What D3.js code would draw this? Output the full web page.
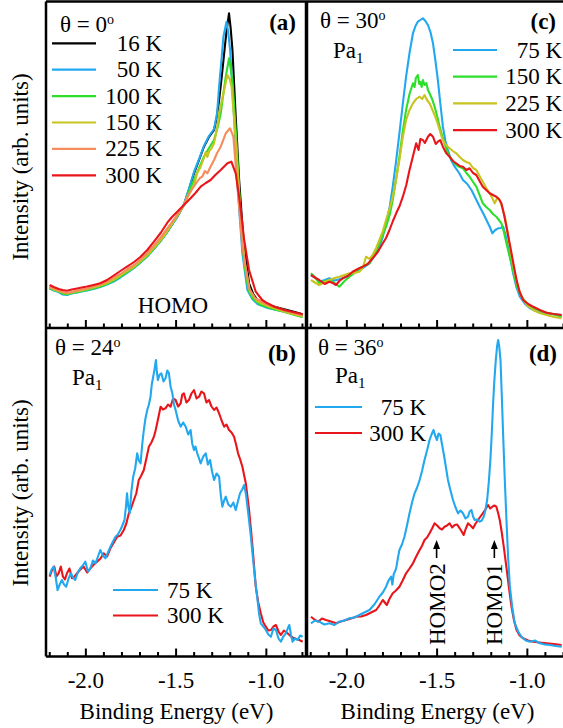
<!DOCTYPE html>
<html>
<head>
<meta charset="utf-8">
<script src="https://cdn.jsdelivr.net/npm/d3@7"></script>
<style>
  body { margin: 0; background: #fff; }
  svg { display: block; }
</style>
</head>
<body>
<svg id="chart" width="563" height="728"></svg>
<script>
// ---- axis values ----
const energyDomain = [-2.218, -0.772];
const minorTicks = [-2.2, -2.1, -1.9, -1.8, -1.7, -1.6, -1.4, -1.3, -1.2, -1.1, -0.9, -0.8];
const majorTicks = [-2.0, -1.5, -1.0];
const tickLabels = ["-2.0", "-1.5", "-1.0"];

// ---- (a) theta = 0, HOMO ----
const a16K = [[-2.198,40.7],[-2.175,39],[-2.148,37.3],[-2.125,35],[-2.102,34],[-2.075,35.5],[-2.046,36.3],[-2.02,37.5],[-1.991,38.7],[-1.955,40],[-1.917,42],[-1.88,44.5],[-1.843,48],[-1.806,52],[-1.769,56.3],[-1.73,61],[-1.694,66.3],[-1.657,72.5],[-1.62,79.7],[-1.583,87.5],[-1.546,96.3],[-1.52,103.5],[-1.491,111.3],[-1.454,123],[-1.425,139],[-1.398,154.7],[-1.37,168],[-1.343,181.3],[-1.315,191],[-1.287,198],[-1.272,210],[-1.259,228],[-1.245,250],[-1.231,274.7],[-1.218,297],[-1.204,314.7],[-1.195,300],[-1.185,278],[-1.167,211.3],[-1.148,148],[-1.124,88],[-1.093,44.7],[-1.07,34],[-1.046,28],[-0.991,23],[-0.945,21],[-0.898,18.7],[-0.85,16.5],[-0.796,13.7]];
const a50K = [[-2.198,39.5],[-2.175,37.5],[-2.148,36],[-2.125,33.5],[-2.102,33],[-2.075,34.5],[-2.046,35.5],[-2.02,36.5],[-1.991,37.5],[-1.955,39],[-1.917,41],[-1.88,43.5],[-1.843,46.5],[-1.806,50.5],[-1.769,55],[-1.73,60],[-1.694,65.5],[-1.657,71.5],[-1.62,79],[-1.583,87],[-1.546,96],[-1.52,103],[-1.491,111],[-1.454,123.5],[-1.425,140],[-1.398,156],[-1.37,169],[-1.343,182],[-1.315,192],[-1.287,199],[-1.27,215],[-1.259,241.3],[-1.245,270],[-1.235,291.3],[-1.218,306.3],[-1.208,295],[-1.198,278],[-1.176,211.3],[-1.154,134.7],[-1.13,74.7],[-1.102,38],[-1.075,29],[-1.046,24],[-0.99,20],[-0.898,16.3],[-0.85,14],[-0.796,12]];
const a100K = [[-2.198,40],[-2.175,38],[-2.148,36.5],[-2.125,34.5],[-2.102,33.5],[-2.075,35],[-2.046,35.8],[-2.02,37],[-1.991,38],[-1.955,39.5],[-1.917,41.5],[-1.88,44],[-1.843,47.5],[-1.806,51.5],[-1.769,55.8],[-1.73,60.5],[-1.694,66],[-1.657,72],[-1.62,79.5],[-1.583,87.5],[-1.546,96.5],[-1.52,104],[-1.491,112],[-1.454,123],[-1.425,137],[-1.398,148],[-1.37,160],[-1.343,171.3],[-1.315,180],[-1.287,188],[-1.265,202],[-1.25,214.7],[-1.235,235],[-1.222,251.3],[-1.204,269.7],[-1.185,248],[-1.162,184.7],[-1.141,114.7],[-1.12,64.7],[-1.096,38],[-1.07,29],[-1.028,23],[-0.95,18.5],[-0.898,16.3],[-0.85,13.5],[-0.796,10.7]];
const a150K = [[-2.198,41],[-2.175,38.5],[-2.148,37],[-2.125,35.5],[-2.102,34.5],[-2.075,35.5],[-2.046,36.8],[-2.02,37.5],[-1.991,39],[-1.955,40.5],[-1.917,42.5],[-1.88,45],[-1.843,48.5],[-1.806,52.5],[-1.769,57],[-1.73,61.5],[-1.694,67],[-1.657,73],[-1.62,80.5],[-1.583,88],[-1.546,97],[-1.52,104],[-1.491,112],[-1.454,123],[-1.425,134],[-1.398,143],[-1.38,155],[-1.361,161.3],[-1.343,170],[-1.333,176],[-1.324,171],[-1.315,176.3],[-1.3,180],[-1.287,184.7],[-1.27,200],[-1.259,214.7],[-1.231,238],[-1.213,253],[-1.2,249],[-1.19,241.3],[-1.167,188],[-1.143,121.3],[-1.117,64.7],[-1.087,36.3],[-1.05,27],[-0.99,22],[-0.898,16.5],[-0.85,14],[-0.796,11.5]];
const a225K = [[-2.198,41.5],[-2.175,39.5],[-2.148,37.8],[-2.125,36],[-2.102,35],[-2.075,36],[-2.046,37.5],[-2.02,38.5],[-1.991,39.5],[-1.955,41.5],[-1.917,43.5],[-1.88,46.5],[-1.843,50.5],[-1.806,54],[-1.769,58.5],[-1.73,63],[-1.694,68.5],[-1.657,75],[-1.62,82.5],[-1.583,90.5],[-1.546,99.5],[-1.52,106],[-1.491,113],[-1.454,123],[-1.435,131.3],[-1.408,139],[-1.38,146.3],[-1.365,150],[-1.352,151.3],[-1.338,157],[-1.324,154.7],[-1.31,160],[-1.287,168],[-1.27,175],[-1.25,181.3],[-1.222,194.7],[-1.198,199.7],[-1.18,191.3],[-1.157,141.3],[-1.13,81.3],[-1.093,39.7],[-1.06,30],[-1.0,24],[-0.9,18],[-0.85,15],[-0.796,12.5]];
const a300K = [[-2.198,43],[-2.175,41],[-2.148,39],[-2.125,38],[-2.102,37.3],[-2.075,38.5],[-2.046,39.5],[-2.02,40.5],[-1.991,41.5],[-1.955,43],[-1.917,44.7],[-1.88,48],[-1.843,52.5],[-1.806,57],[-1.769,61.3],[-1.73,66],[-1.694,71.3],[-1.657,78],[-1.62,86.3],[-1.583,95],[-1.546,105.3],[-1.52,111],[-1.491,116.3],[-1.454,123],[-1.417,129.7],[-1.39,135],[-1.361,141.3],[-1.333,145],[-1.306,148],[-1.28,153],[-1.25,158],[-1.213,164.7],[-1.191,166.3],[-1.167,154.7],[-1.143,124.7],[-1.12,88],[-1.093,58],[-1.056,36.3],[-1.02,28],[-0.991,24.7],[-0.95,21],[-0.898,18],[-0.85,16],[-0.796,13.7]];

// ---- (b) theta = 24, Pa1 ----
const b75K = [[-2.198,81.5],[-2.187,87],[-2.176,89.8],[-2.165,80],[-2.154,66.5],[-2.142,72],[-2.13,76.5],[-2.118,72],[-2.106,69.8],[-2.093,78],[-2.08,83.2],[-2.068,79],[-2.056,76.5],[-2.042,84],[-2.028,88.2],[-2.014,91],[-2.0,94.8],[-1.986,85],[-1.972,88.2],[-1.958,96],[-1.944,93.2],[-1.93,100],[-1.917,106.5],[-1.903,101],[-1.889,98.2],[-1.875,104],[-1.861,109.8],[-1.847,115],[-1.833,119.8],[-1.82,122],[-1.806,126.5],[-1.795,131],[-1.783,136.5],[-1.775,150],[-1.769,163.2],[-1.762,150],[-1.754,143.2],[-1.745,165],[-1.735,179.8],[-1.724,188],[-1.713,203.2],[-1.704,196],[-1.694,193.2],[-1.685,212],[-1.676,226.5],[-1.667,238],[-1.657,246.5],[-1.648,252],[-1.639,259.8],[-1.632,272],[-1.624,279.8],[-1.616,288],[-1.609,296.5],[-1.604,285],[-1.598,276.5],[-1.588,282],[-1.579,283.2],[-1.567,275],[-1.556,278.2],[-1.546,286],[-1.537,283.2],[-1.528,270],[-1.518,263.2],[-1.509,252],[-1.5,246.5],[-1.486,236],[-1.472,229.8],[-1.458,234],[-1.444,229.8],[-1.43,222],[-1.417,226.5],[-1.408,213],[-1.398,206.5],[-1.39,210],[-1.38,203.2],[-1.37,198],[-1.361,193.2],[-1.347,200],[-1.333,203.2],[-1.321,192],[-1.309,196.5],[-1.298,185],[-1.287,176.5],[-1.273,183],[-1.259,179.8],[-1.25,162],[-1.241,149.8],[-1.231,156],[-1.222,159.8],[-1.208,152],[-1.194,149.8],[-1.18,154],[-1.167,146.5],[-1.155,155],[-1.143,163.2],[-1.131,167],[-1.12,171.5],[-1.11,162],[-1.102,149.8],[-1.093,136],[-1.083,119.8],[-1.074,103],[-1.065,86.5],[-1.055,70],[-1.046,56.5],[-1.037,42],[-1.028,33.2],[-1.014,30],[-1.0,26.5],[-0.986,22],[-0.972,19.8],[-0.958,28],[-0.944,26.5],[-0.93,18],[-0.917,14.8],[-0.903,20],[-0.889,23.2],[-0.879,28],[-0.87,31.5],[-0.861,22],[-0.852,14.8],[-0.838,18],[-0.824,16.5],[-0.81,21],[-0.796,19.8]];
const b300K = [[-2.198,79.8],[-2.185,86],[-2.172,89.8],[-2.16,80],[-2.148,83.2],[-2.136,90],[-2.124,79.8],[-2.113,77],[-2.102,83.2],[-2.088,88],[-2.074,78.2],[-2.06,80],[-2.046,83.2],[-2.028,87],[-2.009,89.8],[-1.99,84],[-1.972,88.2],[-1.953,92],[-1.935,94.8],[-1.916,98],[-1.898,103.2],[-1.88,100],[-1.861,108.2],[-1.842,114],[-1.824,119.8],[-1.805,121],[-1.787,126.5],[-1.773,133],[-1.759,143.2],[-1.745,149],[-1.731,156.5],[-1.718,163],[-1.704,176.5],[-1.69,181],[-1.676,186.5],[-1.662,198],[-1.648,209.8],[-1.634,214],[-1.62,219.8],[-1.611,226],[-1.602,233.2],[-1.592,242],[-1.583,249.8],[-1.57,247],[-1.556,248.2],[-1.542,252],[-1.528,249.8],[-1.514,258],[-1.5,256.5],[-1.486,250],[-1.472,253.2],[-1.463,262],[-1.454,263.2],[-1.44,254],[-1.426,256.5],[-1.412,263],[-1.398,266.5],[-1.384,258],[-1.37,259.8],[-1.357,265],[-1.343,263.2],[-1.329,254],[-1.315,256.5],[-1.301,250],[-1.287,246.5],[-1.273,249],[-1.259,243.2],[-1.245,236],[-1.231,229.8],[-1.218,232],[-1.204,226.5],[-1.19,224],[-1.176,219.8],[-1.165,212],[-1.154,203.2],[-1.142,197],[-1.13,189.8],[-1.12,181],[-1.111,173.2],[-1.102,160],[-1.093,146.5],[-1.083,128],[-1.074,109.8],[-1.065,90],[-1.056,69.8],[-1.042,54],[-1.028,43.2],[-1.014,34],[-1.0,29.8],[-0.986,26],[-0.972,26.5],[-0.958,30],[-0.944,31.5],[-0.93,25],[-0.917,21.5],[-0.9,26],[-0.88,23.2],[-0.86,20],[-0.843,18.2],[-0.82,17],[-0.796,14.8]];

// ---- (c) theta = 30, Pa1 ----
const c75K = [[-2.196,53],[-2.17,50],[-2.15,46.3],[-2.12,48],[-2.094,49.7],[-2.065,47.5],[-2.039,48.7],[-2.01,50.5],[-1.983,53],[-1.955,55],[-1.928,58],[-1.9,61],[-1.872,64.7],[-1.845,72],[-1.817,81.3],[-1.8,90],[-1.78,104.7],[-1.76,121],[-1.743,141.3],[-1.725,166],[-1.706,194.7],[-1.688,223],[-1.669,251.3],[-1.65,275],[-1.631,294.7],[-1.617,302],[-1.604,306.3],[-1.59,308],[-1.576,309.7],[-1.562,307],[-1.548,303],[-1.534,296],[-1.52,284.7],[-1.507,268],[-1.493,248],[-1.479,224],[-1.465,201.3],[-1.451,187],[-1.437,178],[-1.42,168],[-1.4,161.3],[-1.375,155],[-1.354,148],[-1.33,144],[-1.307,138],[-1.285,130],[-1.261,121.3],[-1.24,114],[-1.224,108],[-1.205,101],[-1.191,94.7],[-1.175,98],[-1.159,99.7],[-1.145,100],[-1.131,101.3],[-1.118,93],[-1.104,81.3],[-1.09,68],[-1.076,54.7],[-1.058,41],[-1.039,31.3],[-1.01,24],[-0.983,19.7],[-0.95,17],[-0.909,14.7],[-0.86,14],[-0.807,13]];
const c150K = [[-2.196,54.7],[-2.17,50],[-2.15,44.7],[-2.12,47],[-2.094,48],[-2.065,45],[-2.039,41.3],[-2.01,47],[-1.983,51.3],[-1.955,55],[-1.928,59.7],[-1.9,62],[-1.872,64.7],[-1.845,73],[-1.817,84.7],[-1.78,101.3],[-1.76,113],[-1.743,128],[-1.725,148],[-1.706,171.3],[-1.688,196],[-1.669,218],[-1.65,234],[-1.631,244.7],[-1.622,241],[-1.615,250],[-1.604,253],[-1.596,244],[-1.59,246],[-1.583,241],[-1.576,248],[-1.567,243],[-1.557,245],[-1.548,238],[-1.539,234.7],[-1.525,229],[-1.511,221.3],[-1.497,212],[-1.483,201.3],[-1.47,193],[-1.456,184.7],[-1.442,177],[-1.428,171.3],[-1.41,167],[-1.391,163],[-1.372,161],[-1.354,159.7],[-1.335,155],[-1.317,151.3],[-1.298,146],[-1.28,141.3],[-1.262,133],[-1.244,124.7],[-1.225,121],[-1.206,118],[-1.188,114],[-1.169,111.3],[-1.155,108],[-1.141,104.7],[-1.127,96],[-1.113,84.7],[-1.099,74],[-1.085,64.7],[-1.067,50],[-1.048,38],[-1.025,30],[-1.0,25],[-0.983,21.3],[-0.945,18.5],[-0.909,16.3],[-0.86,14],[-0.807,11.3]];
const c225K = [[-2.196,48],[-2.17,45],[-2.15,43],[-2.12,46],[-2.094,48],[-2.065,50],[-2.039,51.3],[-2.01,53],[-1.983,54.7],[-1.955,55],[-1.928,56.3],[-1.909,60],[-1.891,71.3],[-1.872,69],[-1.854,73],[-1.835,80],[-1.817,88],[-1.798,97],[-1.78,108],[-1.761,119],[-1.743,131.3],[-1.725,148],[-1.706,168],[-1.688,190],[-1.669,208],[-1.65,218],[-1.631,224.7],[-1.613,229],[-1.594,231.3],[-1.58,229],[-1.567,233],[-1.553,228],[-1.539,224.7],[-1.525,219],[-1.511,213],[-1.497,206],[-1.483,198],[-1.47,190],[-1.456,184.7],[-1.442,182],[-1.428,179.7],[-1.41,177],[-1.391,174.7],[-1.372,171],[-1.354,168],[-1.335,166],[-1.317,164.7],[-1.298,160],[-1.28,158],[-1.262,152],[-1.244,146.3],[-1.225,140],[-1.206,134.7],[-1.192,130],[-1.178,124.7],[-1.164,130],[-1.15,128],[-1.136,120],[-1.122,111.3],[-1.108,97],[-1.094,81.3],[-1.08,67],[-1.067,54.7],[-1.048,41],[-1.03,31.3],[-1.0,23],[-0.965,18],[-0.93,15],[-0.891,13],[-0.85,11],[-0.807,9.7]];
const c300K = [[-2.196,53],[-2.17,50],[-2.15,48],[-2.12,44],[-2.094,46.3],[-2.075,45],[-2.057,43],[-2.039,47],[-2.02,49.7],[-1.992,52],[-1.965,56.3],[-1.937,59],[-1.909,61.3],[-1.882,64],[-1.854,69.7],[-1.826,76],[-1.798,84.7],[-1.78,90],[-1.761,98],[-1.742,107],[-1.724,114.7],[-1.705,122],[-1.687,131.3],[-1.668,143],[-1.65,158],[-1.632,171],[-1.613,184.7],[-1.6,178],[-1.59,189],[-1.576,188],[-1.565,185],[-1.548,191.3],[-1.535,194],[-1.52,191.3],[-1.505,184],[-1.493,186.3],[-1.48,188],[-1.465,181.3],[-1.447,175],[-1.428,171.3],[-1.41,167],[-1.391,164.7],[-1.372,162],[-1.354,161.3],[-1.335,158],[-1.317,159.7],[-1.298,155],[-1.28,153],[-1.262,147],[-1.244,141.3],[-1.225,138],[-1.206,134.7],[-1.188,133],[-1.169,131.3],[-1.155,129],[-1.141,124.7],[-1.127,114],[-1.113,101.3],[-1.099,88],[-1.085,74.7],[-1.071,61],[-1.057,48],[-1.04,36],[-1.02,28],[-0.993,24],[-0.965,21.3],[-0.928,18],[-0.891,15.3],[-0.85,14],[-0.807,13]];

// ---- (d) theta = 36, Pa1 ----
const d75K = [[-2.196,33.2],[-2.173,36],[-2.15,34.8],[-2.122,32],[-2.094,33.2],[-2.066,31.5],[-2.039,34.8],[-2.011,36],[-1.983,38.2],[-1.955,39],[-1.928,41.5],[-1.9,44],[-1.872,46.5],[-1.845,52],[-1.817,59.8],[-1.798,64],[-1.78,69.8],[-1.766,76],[-1.752,79.8],[-1.745,72],[-1.738,82],[-1.724,88.2],[-1.715,98],[-1.706,106.5],[-1.692,112],[-1.678,119.8],[-1.664,131],[-1.65,143.2],[-1.636,154],[-1.622,163.2],[-1.608,169],[-1.594,176.5],[-1.58,186],[-1.567,196.5],[-1.553,206],[-1.539,216.5],[-1.528,222],[-1.517,226.5],[-1.508,221],[-1.498,216.5],[-1.489,223],[-1.479,221.5],[-1.47,212],[-1.461,203.2],[-1.449,190],[-1.437,176.5],[-1.423,166],[-1.409,156.5],[-1.395,149],[-1.381,143.2],[-1.368,146],[-1.354,143.2],[-1.34,138],[-1.326,139.8],[-1.317,145],[-1.307,146.5],[-1.298,140],[-1.289,136.5],[-1.275,137],[-1.261,134.8],[-1.25,136],[-1.239,139.8],[-1.23,146],[-1.22,156.5],[-1.211,174],[-1.202,196.5],[-1.194,224],[-1.187,253.2],[-1.18,276],[-1.172,296.5],[-1.165,310],[-1.159,316.5],[-1.153,310],[-1.146,296.5],[-1.139,262],[-1.131,219.8],[-1.122,176],[-1.113,136.5],[-1.104,100],[-1.094,69.8],[-1.08,48],[-1.067,33.2],[-1.048,25],[-1.03,19.8],[-1.006,16],[-0.983,14.8],[-0.955,16],[-0.928,13.2],[-0.9,12],[-0.872,11.5],[-0.84,10.5],[-0.807,9.8]];
const d300K = [[-2.196,39.8],[-2.177,37],[-2.157,34.8],[-2.135,38],[-2.113,36.5],[-2.085,35],[-2.057,33.2],[-2.03,35],[-2.002,36.5],[-1.974,38],[-1.946,39.8],[-1.918,40],[-1.891,41.5],[-1.863,44],[-1.835,46.5],[-1.817,51],[-1.798,56.5],[-1.787,54],[-1.776,51.5],[-1.76,58],[-1.743,63.2],[-1.725,66],[-1.706,69.8],[-1.688,76],[-1.669,83.2],[-1.65,88],[-1.631,93.2],[-1.613,100],[-1.594,106.5],[-1.58,111],[-1.567,116.5],[-1.553,119],[-1.539,123.2],[-1.525,128],[-1.511,133.2],[-1.497,131],[-1.483,128.2],[-1.47,127],[-1.456,129.8],[-1.442,131],[-1.428,133.2],[-1.414,129],[-1.4,131.5],[-1.386,132],[-1.372,128.2],[-1.361,125],[-1.35,121.5],[-1.338,128],[-1.326,133.2],[-1.312,131],[-1.298,128.2],[-1.284,133],[-1.27,136.5],[-1.257,140],[-1.244,143.2],[-1.23,147],[-1.215,151.5],[-1.203,148],[-1.191,149.8],[-1.18,151],[-1.169,149.8],[-1.16,144],[-1.15,136.5],[-1.139,124],[-1.128,109.8],[-1.118,96],[-1.109,83.2],[-1.097,66],[-1.085,49.8],[-1.071,36],[-1.057,26.5],[-1.04,21],[-1.02,18.2],[-0.993,16],[-0.965,14.8],[-0.93,14],[-0.891,13.2],[-0.85,12.5],[-0.807,11.5]];

// ---- colours ----
const C = {
  black: "#000000",
  blue: "#22a8ee",
  green: "#2ddf2a",
  olive: "#c8c41f",
  orange: "#f58c5c",
  red: "#e8151b"
};

// ---- layout ----
const FONT = '"Liberation Serif"';
const colX = [46, 307];
const panelW = 261;
const rowTop = [1.5, 328];
const rowBottom = [328, 656.5];
const fontSize = 23;

const panels = [
  { tag: "(a)", col: 0, row: 0, tagX: 296, tagY: 30,
    series: [
      { label: "16 K", color: C.black, values: a16K },
      { label: "50 K", color: C.blue, values: a50K },
      { label: "100 K", color: C.green, values: a100K },
      { label: "150 K", color: C.olive, values: a150K },
      { label: "225 K", color: C.orange, values: a225K },
      { label: "300 K", color: C.red, values: a300K }
    ],
    drawOrder: [0, 1, 2, 3, 4, 5],
    legend: { x1: 52, x2: 96, y0: 43.3, dy: 26.4, textX: 162, anchor: "end" },
    angle: "0", angleX: 60, angleY: 32, pa: null },
  { tag: "(b)", col: 0, row: 1, tagX: 296, tagY: 361,
    series: [
      { label: "75 K", color: C.blue, values: b75K },
      { label: "300 K", color: C.red, values: b300K }
    ],
    drawOrder: [1, 0],
    legend: { x1: 113, x2: 158, y0: 590, dy: 25.5, textX: 167, anchor: "start" },
    angle: "24", angleX: 55, angleY: 355, pa: [72, 385] },
  { tag: "(c)", col: 1, row: 0, tagX: 556, tagY: 29,
    series: [
      { label: "75 K", color: C.blue, values: c75K },
      { label: "150 K", color: C.green, values: c150K },
      { label: "225 K", color: C.olive, values: c225K },
      { label: "300 K", color: C.red, values: c300K }
    ],
    drawOrder: [0, 1, 2, 3],
    legend: { x1: 453, x2: 497, y0: 50, dy: 26.7, textX: 562, anchor: "end" },
    angle: "30", angleX: 320, angleY: 28, pa: [333, 58] },
  { tag: "(d)", col: 1, row: 1, tagX: 557, tagY: 361,
    series: [
      { label: "75 K", color: C.blue, values: d75K },
      { label: "300 K", color: C.red, values: d300K }
    ],
    drawOrder: [1, 0],
    legend: { x1: 315, x2: 362, y0: 407, dy: 26, textX: 426, anchor: "end" },
    angle: "36", angleX: 318, angleY: 355, pa: [335, 383] }
];

const svg = d3.select("#chart");
svg.append("rect").attr("width", 563).attr("height", 728).attr("fill", "#fff");

const defs = svg.append("defs");

function addText(sel) {
  return sel.append("text").style("font-family", FONT).attr("fill", "#000");
}

panels.forEach((p, i) => {
  const x0 = colX[p.col];
  const top = rowTop[p.row], bottom = rowBottom[p.row];
  const x = d3.scaleLinear().domain(energyDomain).range([x0, x0 + panelW]);
  const y = d3.scaleLinear().domain([0, bottom - top]).range([bottom, top]);

  defs.append("clipPath").attr("id", "clip" + i)
    .append("rect").attr("x", x0).attr("y", top).attr("width", panelW).attr("height", bottom - top);

  const line = d3.line().x(d => x(d[0])).y(d => y(d[1]));
  const g = svg.append("g").attr("clip-path", `url(#clip${i})`);
  p.drawOrder.forEach(k => {
    const s = p.series[k];
    g.append("path")
      .datum(s.values)
      .attr("fill", "none")
      .attr("stroke", s.color)
      .attr("stroke-width", 2.1)
      .attr("stroke-linejoin", "round")
      .attr("d", line);
  });

  // inward ticks on the energy axis
  const minorAxis = d3.axisBottom(x).tickValues(minorTicks).tickSize(-4.5).tickFormat("");
  const majorAxis = d3.axisBottom(x).tickValues(majorTicks).tickSize(-8).tickPadding(15)
    .tickFormat((d, j) => p.row === 1 ? tickLabels[j] : "");
  [minorAxis, majorAxis].forEach(ax => {
    const ga = svg.append("g").attr("transform", `translate(0,${bottom})`).call(ax);
    ga.attr("font-size", fontSize);
    ga.select(".domain").remove();
    ga.selectAll(".tick line").attr("stroke", "#000").attr("stroke-width", 2);
    ga.selectAll(".tick text").style("font-family", FONT).attr("fill", "#000");
  });

  // legend
  const L = p.legend;
  p.series.forEach((s, j) => {
    const ly = L.y0 + j * L.dy;
    svg.append("line").attr("x1", L.x1).attr("x2", L.x2).attr("y1", ly).attr("y2", ly)
      .attr("stroke", s.color).attr("stroke-width", 2.2);
    addText(svg).attr("x", L.textX).attr("y", ly + 7.5)
      .attr("text-anchor", L.anchor).attr("font-size", fontSize).text(s.label);
  });

  // angle label
  const t = addText(svg).attr("x", p.angleX).attr("y", p.angleY).attr("font-size", fontSize);
  t.append("tspan").text("\u03b8 = " + p.angle);
  t.append("tspan").attr("font-size", 14).attr("dy", -8).text("o");

  if (p.pa) {
    const pa = addText(svg).attr("x", p.pa[0]).attr("y", p.pa[1]).attr("font-size", fontSize);
    pa.append("tspan").text("Pa");
    pa.append("tspan").attr("font-size", 15).attr("dy", 5).text("1");
  }

  // panel tag
  addText(svg).attr("x", p.tagX).attr("y", p.tagY).attr("text-anchor", "end")
    .attr("font-size", fontSize).attr("font-weight", "bold").text(p.tag);

  // axis title
  if (p.row === 1) {
    addText(svg).attr("x", x0 + panelW / 2).attr("y", 719).attr("text-anchor", "middle")
      .attr("font-size", fontSize).text("Binding Energy (eV)");
  }
});

// y-axis titles
[167, 493].forEach(cy => {
  addText(svg).attr("transform", `translate(28,${cy}) rotate(-90)`)
    .attr("text-anchor", "middle").attr("font-size", fontSize).text("Intensity (arb. units)");
});

// HOMO label in (a)
addText(svg).attr("x", 173).attr("y", 313).attr("text-anchor", "middle")
  .attr("font-size", fontSize).text("HOMO");

// HOMO1 / HOMO2 markers in (d)
const xd = d3.scaleLinear().domain(energyDomain).range([colX[1], colX[1] + panelW]);
const markers = [{ e: -1.5, label: "HOMO2" }, { e: -1.18, label: "HOMO1" }];
markers.forEach(m => {
  const mx = xd(m.e);
  svg.append("line").attr("x1", mx).attr("x2", mx).attr("y1", 558).attr("y2", 548)
    .attr("stroke", "#000").attr("stroke-width", 1.6);
  svg.append("path").attr("d", `M${mx - 3.5},${549} L${mx},${540} L${mx + 3.5},${549} Z`).attr("fill", "#000");
  addText(svg).attr("transform", `translate(${mx + 8},${645}) rotate(-90)`)
    .attr("font-size", fontSize).text(m.label);
});

// frame
const frame = svg.append("g").attr("stroke", "#000").attr("fill", "none");
frame.append("line").attr("x1", 46).attr("x2", 568).attr("y1", 1.5).attr("y2", 1.5).attr("stroke-width", 2.5);
frame.append("line").attr("x1", 46).attr("x2", 568).attr("y1", 328).attr("y2", 328).attr("stroke-width", 2.5);
frame.append("line").attr("x1", 46).attr("x2", 568).attr("y1", 656.5).attr("y2", 656.5).attr("stroke-width", 2.5);
frame.append("line").attr("x1", 46).attr("x2", 46).attr("y1", 1.5).attr("y2", 656.5).attr("stroke-width", 2.5);
frame.append("line").attr("x1", 306.5).attr("x2", 306.5).attr("y1", 1.5).attr("y2", 656.5).attr("stroke-width", 3.5);
</script>
</body>
</html>
